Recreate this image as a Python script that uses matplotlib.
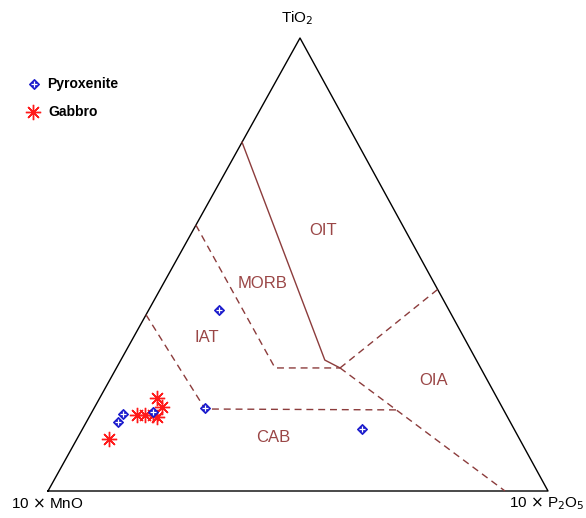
import matplotlib.pyplot as plt
import numpy as np

# ternary fractions (10*MnO, TiO2, 10*P2O5), normalised
pyx_mno = [0.459, 0.595, 0.304, 0.785, 0.766, 0.704]
pyx_tio2 = [0.400, 0.183, 0.137, 0.152, 0.170, 0.174]
pyx_p2o5 = [0.141, 0.222, 0.559, 0.063, 0.064, 0.122]

gab_mno = [0.680, 0.680, 0.739, 0.723, 0.707, 0.701, 0.821]
gab_tio2 = [0.205, 0.185, 0.168, 0.168, 0.168, 0.163, 0.115]
gab_p2o5 = [0.115, 0.135, 0.093, 0.109, 0.125, 0.136, 0.064]

# field boundaries as (MnO, TiO2, P2O5) lists
solid_lines = [
    [(0.23, 0.77, 0.0), (0.303, 0.289, 0.408), (0.281, 0.2715, 0.447)],
]
dashed_lines = [
    [(0.413, 0.587, 0.0), (0.411, 0.2715, 0.317), (0.281, 0.2715, 0.447)],
    [(0.281, 0.2715, 0.447), (0.0, 0.445, 0.555)],
    [(0.281, 0.2715, 0.447), (0.086, 0.0, 0.914)],
    [(0.611, 0.389, 0.0), (0.596, 0.181, 0.223), (0.211, 0.179, 0.610)],
]
field_names = ["OIT", "MORB", "IAT", "OIA", "CAB"]
field_pos = [(0.165, 0.574, 0.261), (0.345, 0.457, 0.198), (0.514, 0.338, 0.148),
             (0.108, 0.245, 0.647), (0.492, 0.117, 0.391)]

# figure pixel geometry of the triangle
LEFT = np.array([48.0, 491.0])
TOP = np.array([300.0, 38.0])
RIGHT = np.array([548.0, 491.0])


def tern(a, b, c):
    a, b, c = np.asarray(a, float), np.asarray(b, float), np.asarray(c, float)
    s = a + b + c
    a, b, c = a / s, b / s, c / s
    x = a * LEFT[0] + b * TOP[0] + c * RIGHT[0]
    y = a * LEFT[1] + b * TOP[1] + c * RIGHT[1]
    return x, y


BROWN = "#8c3c3c"
LABEL_BROWN = "#9a4646"
FONT = "Liberation Sans"

fig = plt.figure(figsize=(5.86, 5.18), dpi=100)
ax = fig.add_axes([0, 0, 1, 1])
ax.set_xlim(0, 586)
ax.set_ylim(518, 0)
ax.axis("off")

# triangle frame
fx, fy = tern([1, 0, 0, 1], [0, 1, 0, 0], [0, 0, 1, 0])
ax.plot(fx, fy, color="black", lw=1.0)

for line in solid_lines:
    a, b, c = zip(*line)
    x, y = tern(a, b, c)
    ax.plot(x, y, color=BROWN, lw=1.0)
for line in dashed_lines:
    a, b, c = zip(*line)
    x, y = tern(a, b, c)
    ax.plot(x, y, color=BROWN, lw=1.0, dashes=(5, 3.5))

for name, (a, b, c) in zip(field_names, field_pos):
    x, y = tern(a, b, c)
    ax.text(x, y, name, color=LABEL_BROWN, fontsize=12, ha="center", va="center", family=FONT)


def pyx_marker(x, y):
    ax.plot(x, y, ls="none", marker="D", ms=5.5, mfc="#1a1acc", mec="#1a1acc", mew=0.8)
    ax.plot(x, y, ls="none", marker="+", ms=4, mec="white", mew=0.9)


def gab_marker(x, y):
    ax.plot(x, y, ls="none", marker=(8, 2, 0), ms=11, mec="#ff1a1a", mew=1.0)


px, py = tern(pyx_mno, pyx_tio2, pyx_p2o5)
gx, gy = tern(gab_mno, gab_tio2, gab_p2o5)
gab_marker(gx, gy)
pyx_marker(px, py)

# vertex labels
ax.text(297, 18, "TiO$_2$", fontsize=11, ha="center", va="center", family=FONT)
ax.text(47, 504, "10 $\\times$ MnO", fontsize=11, ha="center", va="center", family=FONT)
ax.text(547, 504, "10 $\\times$ P$_2$O$_5$", fontsize=11, ha="center", va="center", family=FONT)

# legend
pyx_marker([34], [84])
ax.text(47, 84, "Pyroxenite", fontsize=10, fontweight="bold", va="center", family=FONT)
gab_marker([33], [112])
ax.text(48, 112, "Gabbro", fontsize=10, fontweight="bold", va="center", family=FONT)

fig.savefig("out.png", dpi=100)
